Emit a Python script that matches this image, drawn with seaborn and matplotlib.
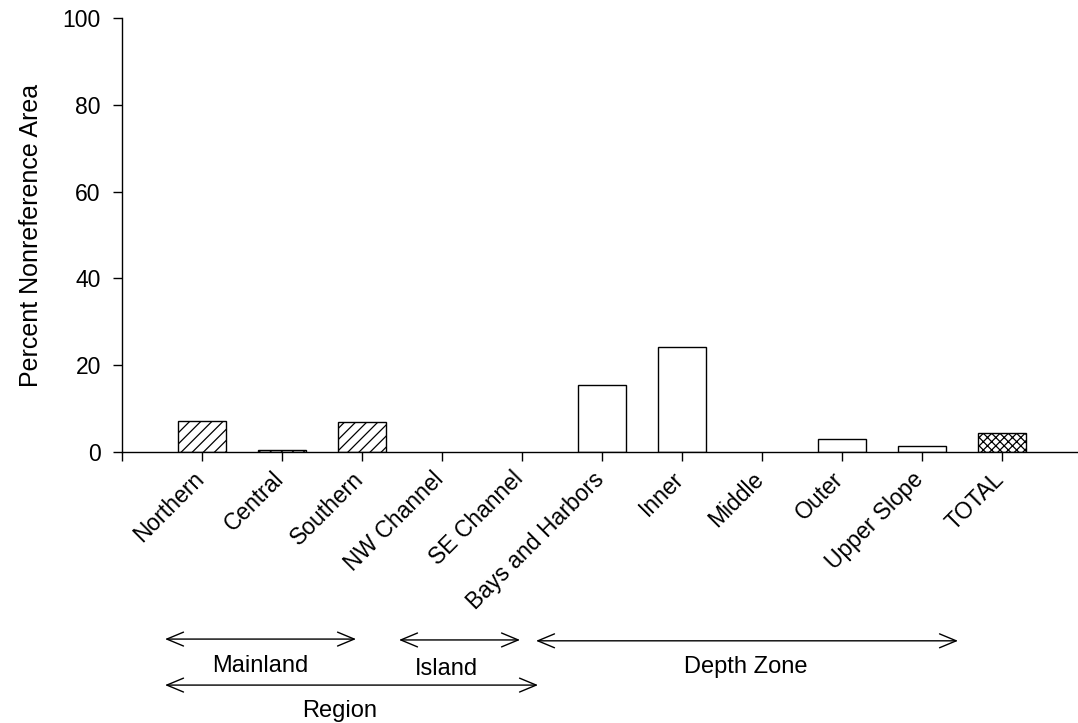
import matplotlib
matplotlib.use("Agg")
import matplotlib.pyplot as plt
import matplotlib.transforms as mtransforms
import seaborn as sns
import pandas as pd

# Percent of nonreference area by stratum
categories = ["Northern", "Central", "Southern", "NW Channel", "SE Channel",
              "Bays and Harbors", "Inner", "Middle", "Outer", "Upper Slope", "TOTAL"]
percent = [7.1, 0.4, 7.0, 0.0, 0.0, 15.5, 24.1, 0.0, 3.1, 1.3, 4.3]
hatches = ["///", "///", "///", "", "", "", "", "", "", "", "xxxx"]
y_ticks = [0, 20, 40, 60, 80, 100]

sns.set_style("white")
plt.rcParams["font.family"] = ["Liberation Sans", "DejaVu Sans"]
plt.rcParams["hatch.linewidth"] = 0.9
for key in ["text.color", "axes.labelcolor", "xtick.color", "ytick.color"]:
    plt.rcParams[key] = "black"

df = pd.DataFrame({"stratum": categories, "percent": percent})

fig = plt.figure(figsize=(10.78, 7.23), dpi=100)
ax = fig.add_axes([0.1132, 0.3748, 0.8868, 0.6003])

sns.barplot(data=df, x="stratum", y="percent", order=categories, color="white",
            saturation=1, edgecolor="black", linewidth=1.0, width=0.6, ax=ax)

for patch, h, v in zip(ax.patches, hatches, percent):
    patch.set_hatch(h)
    patch.set_facecolor("white")
    patch.set_edgecolor("black")
    if v == 0:
        patch.set_linewidth(0)

ax.set_xlim(-1, 10.95)
ax.set_ylim(0, 100)
ax.set_yticks(y_ticks)
ax.set_yticklabels([str(v) for v in y_ticks], fontsize=16.5)
ax.set_xticks([-1] + list(range(len(categories))))
ax.set_xticklabels([""] + categories, fontsize=16.5, rotation=45,
                   ha="right", va="top", rotation_mode="anchor")
ax.tick_params(axis="both", direction="out", length=6.3, width=1,
               color="black", left=True, bottom=True)
ax.tick_params(axis="y", pad=9)
ax.tick_params(axis="x", pad=7)

# nudge rotated category labels so their ends sit under the ticks
nudge = mtransforms.ScaledTranslation(-0.10, 0.03, fig.dpi_scale_trans)
for lbl in ax.get_xticklabels():
    lbl.set_transform(lbl.get_transform() + nudge)

ax.set_xlabel("")
ax.set_ylabel("Percent Nonreference Area", fontsize=18, labelpad=14)

for side in ["top", "right"]:
    ax.spines[side].set_visible(False)
for side in ["left", "bottom"]:
    ax.spines[side].set_color("black")
    ax.spines[side].set_linewidth(1.0)

# Grouping brackets below the category labels
trans = ax.get_xaxis_transform()
arrow_kw = dict(arrowstyle="<->, head_length=0.6, head_width=0.25", lw=1.0,
                color="black", mutation_scale=20, shrinkA=0, shrinkB=0)
groups = [
    # label, start, end, arrow height, text x, text top
    ("Mainland", -0.4625, 1.925, -0.431, 0.73, -0.468),
    ("Island", 2.4625, 3.975, -0.433, 3.06, -0.475),
    ("Depth Zone", 4.175, 9.45, -0.435, 6.80, -0.470),
    ("Region", -0.4625, 4.2, -0.537, 1.725, -0.571),
]
for label, x0, x1, ya, xt, yt in groups:
    ax.annotate("", xy=(x0, ya), xytext=(x1, ya), xycoords=trans,
                textcoords=trans, arrowprops=arrow_kw, annotation_clip=False)
    ax.text(xt, yt, label, transform=trans, ha="center", va="top",
            fontsize=17, clip_on=False)

fig.savefig("out.png", dpi=100)
